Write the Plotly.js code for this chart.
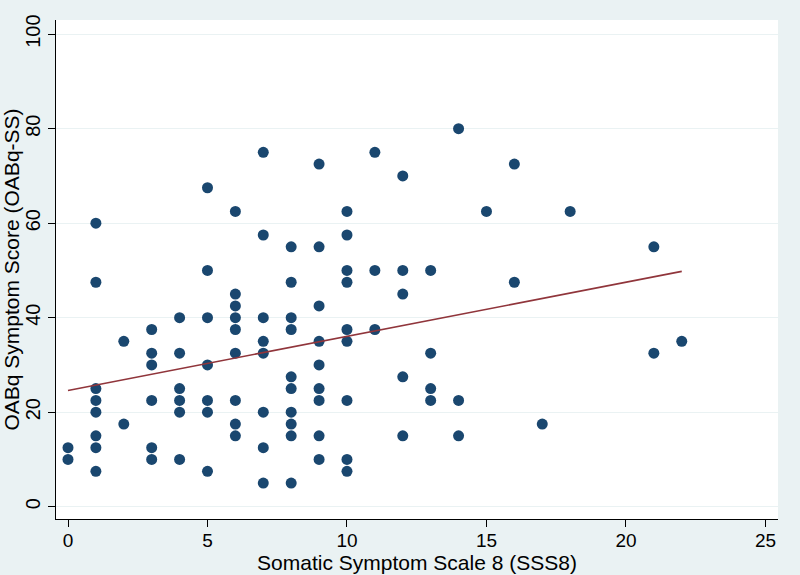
<!DOCTYPE html>
<html>
<head>
<meta charset="utf-8">
<script src="https://cdn.plot.ly/plotly-3.0.1.min.js"></script>
<style>html,body{margin:0;padding:0;background:#eaf2f3;}#chart{width:800px;height:575px;}</style>
</head>
<body>
<div id="chart"></div>
<script>
// Somatic Symptom Scale 8 (x) and OABq-SS (y) for each participant
const sss8 = [
  0, 0,
  1, 1, 1, 1, 1, 1, 1, 1,
  2, 2,
  3, 3, 3, 3, 3, 3,
  4, 4, 4, 4, 4, 4,
  5, 5, 5, 5, 5, 5, 5,
  6, 6, 6, 6, 6, 6, 6, 6, 6,
  7, 7, 7, 7, 7, 7, 7, 7,
  8, 8, 8, 8, 8, 8, 8, 8, 8, 8,
  9, 9, 9, 9, 9, 9, 9, 9, 9,
  10, 10, 10, 10, 10, 10, 10, 10, 10,
  11, 11, 11,
  12, 12, 12, 12, 12,
  13, 13, 13, 13,
  14, 14, 14,
  15,
  16, 16,
  17,
  18,
  21, 21,
  22
];
const oabqSS = [
  12.5, 10,
  60, 47.5, 25, 22.5, 20, 15, 12.5, 7.5,
  35, 17.5,
  37.5, 32.5, 30, 22.5, 12.5, 10,
  40, 32.5, 25, 22.5, 20, 10,
  67.5, 50, 40, 30, 22.5, 20, 7.5,
  62.5, 45, 42.5, 40, 37.5, 32.5, 22.5, 17.5, 15,
  75, 57.5, 40, 35, 32.5, 20, 12.5, 5,
  55, 47.5, 40, 37.5, 27.5, 25, 20, 17.5, 15, 5,
  72.5, 55, 42.5, 35, 30, 25, 22.5, 15, 10,
  62.5, 57.5, 50, 47.5, 37.5, 35, 22.5, 10, 7.5,
  75, 50, 37.5,
  70, 50, 45, 27.5, 15,
  50, 32.5, 25, 22.5,
  80, 22.5, 15,
  62.5,
  72.5, 47.5,
  17.5,
  62.5,
  55, 32.5,
  35
];
// fitted line end points
const fitX = [0, 22];
const fitY = [24.6, 49.8];

const xTicks = [0, 5, 10, 15, 20, 25];
const yTicks = [0, 20, 40, 60, 80, 100];

const font = {family: '"Liberation Sans", Arial, Helvetica, sans-serif', color: '#000000'};

const traces = [
  {
    x: sss8, y: oabqSS, type: 'scatter', mode: 'markers',
    marker: {color: '#1a476f', size: 11, line: {width: 0}},
    hoverinfo: 'x+y', showlegend: false
  },
  {
    x: fitX, y: fitY, type: 'scatter', mode: 'lines',
    line: {color: '#90353b', width: 1.6},
    showlegend: false
  }
];

const layout = {
  width: 800, height: 575,
  paper_bgcolor: '#eaf2f3',
  plot_bgcolor: '#ffffff',
  margin: {l: 56, r: 22, t: 20, b: 56},
  font: Object.assign({size: 20}, font),
  showlegend: false,
  xaxis: {
    range: [-0.43, 25.45],
    tickvals: xTicks, ticktext: xTicks.map(String),
    ticks: 'outside', ticklen: 7, tickwidth: 1, tickcolor: '#000000',
    ticklabelstandoff: -3,
    showline: true, linecolor: '#000000', linewidth: 1,
    showgrid: false, zeroline: false,
    tickfont: Object.assign({size: 19}, font),
    title: {text: 'Somatic Symptom Scale 8 (SSS8)', font: Object.assign({size: 21}, font), standoff: 0}
  },
  yaxis: {
    range: [-2.6, 103],
    tickvals: yTicks, ticktext: yTicks.map(String),
    tickangle: -90,
    ticks: 'outside', ticklen: 7, tickwidth: 1, tickcolor: '#000000',
    showline: true, linecolor: '#000000', linewidth: 1,
    showgrid: true, gridcolor: '#eaf2f3', gridwidth: 1,
    zeroline: false,
    tickfont: Object.assign({size: 20}, font),
    title: {text: 'OABq Symptom Score (OABq-SS)', font: Object.assign({size: 21}, font), standoff: 2}
  }
};

Plotly.newPlot('chart', traces, layout, {displayModeBar: false, staticPlot: true});
</script>
</body>
</html>
